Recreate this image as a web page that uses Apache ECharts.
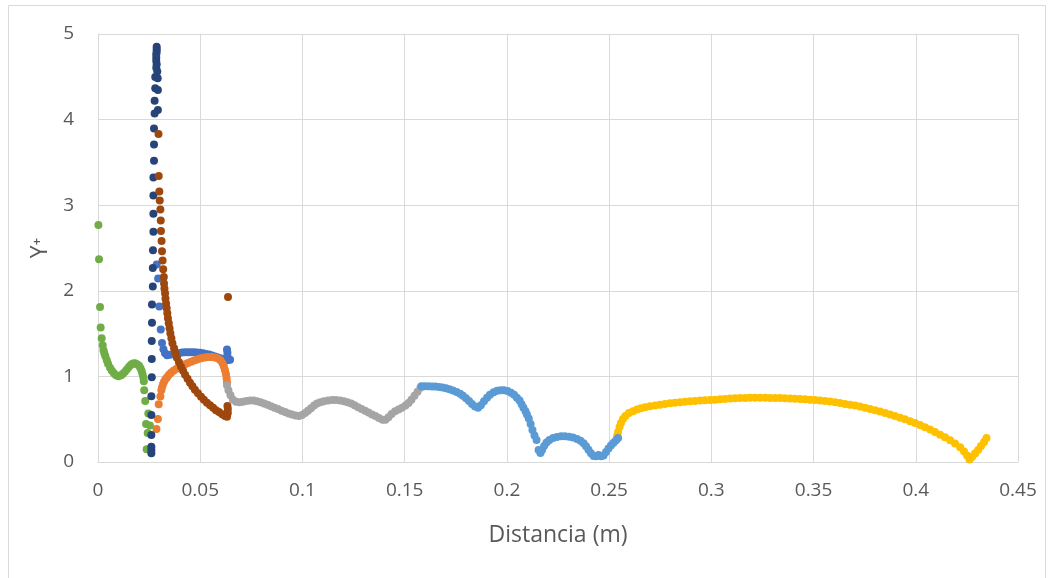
<!DOCTYPE html>
<html>
<head>
<meta charset="utf-8">
<script src="https://cdn.jsdelivr.net/npm/echarts@6/dist/echarts.min.js"></script>
<style>
  html, body { margin: 0; padding: 0; background: #ffffff; }
  #chart { width: 1048px; height: 578px; }
</style>
</head>
<body>
<div id="chart"></div>
<script>
// Y+ along the wall, one scatter series per wall segment: [distance (m), Y+]
const seriesBlue = [
  [0.0287,2.308],[0.0294,2.145],[0.0300,1.818],[0.0307,1.547],[0.0313,1.390],[0.0320,1.317],
  [0.0328,1.270],[0.0338,1.247],[0.0352,1.253],[0.0367,1.259],[0.0382,1.267],[0.0396,1.273],
  [0.0411,1.279],[0.0426,1.282],[0.0440,1.282],[0.0455,1.282],[0.0470,1.282],[0.0484,1.280],
  [0.0499,1.275],[0.0514,1.270],[0.0528,1.263],[0.0543,1.255],[0.0558,1.245],[0.0572,1.233],
  [0.0587,1.221],[0.0602,1.209],[0.0616,1.197],[0.0629,1.189],[0.0638,1.195],[0.0646,1.195],
  [0.0633,1.235],[0.0633,1.276],[0.0631,1.313]
];
const seriesOrange = [
  [0.0286,0.385],[0.0293,0.501],[0.0297,0.676],[0.0305,0.766],[0.0310,0.839],[0.0313,0.874],
  [0.0318,0.909],[0.0323,0.938],[0.0330,0.967],[0.0338,0.991],[0.0347,1.020],[0.0357,1.043],
  [0.0369,1.066],[0.0382,1.086],[0.0396,1.107],[0.0411,1.127],[0.0426,1.142],[0.0440,1.157],
  [0.0455,1.171],[0.0470,1.185],[0.0484,1.197],[0.0499,1.209],[0.0514,1.218],[0.0528,1.224],
  [0.0543,1.227],[0.0558,1.227],[0.0572,1.221],[0.0587,1.209],[0.0599,1.189],[0.0609,1.154],
  [0.0616,1.113],[0.0621,1.072],[0.0626,1.026],[0.0629,0.979],[0.0631,0.932]
];
const seriesGray = [
  [0.0631,0.897],[0.0638,0.839],[0.0648,0.781],[0.0660,0.728],[0.0675,0.705],[0.0692,0.699],
  [0.0709,0.705],[0.0726,0.714],[0.0744,0.719],[0.0761,0.719],[0.0778,0.711],[0.0795,0.699],
  [0.0812,0.684],[0.0829,0.668],[0.0846,0.650],[0.0863,0.634],[0.0880,0.618],[0.0898,0.600],
  [0.0915,0.583],[0.0932,0.568],[0.0949,0.554],[0.0966,0.542],[0.0983,0.536],[0.0998,0.548],
  [0.1013,0.571],[0.1027,0.600],[0.1042,0.629],[0.1057,0.659],[0.1071,0.682],[0.1088,0.699],
  [0.1105,0.711],[0.1125,0.719],[0.1145,0.723],[0.1164,0.723],[0.1184,0.719],[0.1203,0.711],
  [0.1220,0.699],[0.1238,0.682],[0.1255,0.662],[0.1272,0.641],[0.1289,0.620],[0.1306,0.598],
  [0.1323,0.577],[0.1340,0.556],[0.1357,0.536],[0.1374,0.515],[0.1392,0.495],[0.1406,0.495],
  [0.1421,0.524],[0.1436,0.562],[0.1453,0.594],[0.1470,0.614],[0.1487,0.635],[0.1504,0.659],
  [0.1519,0.688],[0.1533,0.728],[0.1548,0.775],[0.1563,0.822],[0.1577,0.868]
];
const seriesGold = [
  [0.2539,0.303],[0.2544,0.350],[0.2551,0.408],[0.2558,0.455],[0.2568,0.501],[0.2580,0.536],
  [0.2597,0.571],[0.2617,0.594],[0.2637,0.612],[0.2656,0.627],[0.2676,0.639],[0.2700,0.650],
  [0.2725,0.661],[0.2749,0.670],[0.2773,0.678],[0.2798,0.685],[0.2822,0.692],[0.2847,0.699],
  [0.2871,0.705],[0.2896,0.710],[0.2920,0.713],[0.2945,0.717],[0.2969,0.720],[0.2994,0.723],
  [0.3018,0.727],[0.3043,0.732],[0.3067,0.737],[0.3092,0.741],[0.3116,0.745],[0.3140,0.747],
  [0.3165,0.749],[0.3189,0.751],[0.3214,0.752],[0.3238,0.752],[0.3263,0.751],[0.3287,0.749],
  [0.3312,0.748],[0.3336,0.747],[0.3360,0.745],[0.3385,0.742],[0.3409,0.740],[0.3434,0.737],
  [0.3458,0.733],[0.3483,0.728],[0.3507,0.724],[0.3532,0.719],[0.3556,0.713],[0.3580,0.708],
  [0.3605,0.698],[0.3629,0.688],[0.3654,0.679],[0.3678,0.670],[0.3703,0.659],[0.3727,0.647],
  [0.3752,0.634],[0.3776,0.620],[0.3801,0.606],[0.3825,0.591],[0.3850,0.573],[0.3874,0.556],
  [0.3898,0.536],[0.3923,0.517],[0.3947,0.498],[0.3972,0.477],[0.3996,0.455],[0.4021,0.431],
  [0.4045,0.406],[0.4070,0.379],[0.4094,0.350],[0.4119,0.319],[0.4143,0.288],[0.4168,0.254],
  [0.4192,0.217],[0.4217,0.172],[0.4236,0.122],[0.4251,0.076],[0.4263,0.029],[0.4275,0.058],
  [0.4290,0.099],[0.4305,0.140],[0.4319,0.186],[0.4334,0.233],[0.4346,0.280]
];
const seriesLightBlue = [
  [0.1582,0.886],[0.1599,0.886],[0.1617,0.886],[0.1634,0.883],[0.1651,0.881],[0.1668,0.876],
  [0.1685,0.871],[0.1702,0.862],[0.1719,0.851],[0.1736,0.836],[0.1754,0.818],[0.1771,0.798],
  [0.1785,0.775],[0.1800,0.746],[0.1815,0.713],[0.1829,0.678],[0.1844,0.647],[0.1859,0.635],
  [0.1873,0.664],[0.1888,0.711],[0.1903,0.752],[0.1917,0.787],[0.1935,0.816],[0.1952,0.833],
  [0.1969,0.839],[0.1986,0.837],[0.2003,0.828],[0.2020,0.810],[0.2035,0.787],[0.2049,0.752],
  [0.2062,0.717],[0.2072,0.676],[0.2081,0.635],[0.2091,0.594],[0.2098,0.554],[0.2107,0.507],
  [0.2116,0.443],[0.2125,0.373],[0.2135,0.309],[0.2145,0.256],[0.2155,0.140],[0.2164,0.105],
  [0.2172,0.140],[0.2182,0.186],[0.2194,0.227],[0.2208,0.256],[0.2226,0.280],[0.2245,0.291],
  [0.2265,0.300],[0.2284,0.301],[0.2304,0.296],[0.2323,0.286],[0.2343,0.270],[0.2360,0.248],
  [0.2375,0.218],[0.2387,0.183],[0.2399,0.143],[0.2411,0.101],[0.2424,0.070],[0.2436,0.066],
  [0.2448,0.082],[0.2460,0.066],[0.2473,0.076],[0.2485,0.117],[0.2497,0.157],[0.2509,0.192],
  [0.2522,0.224],[0.2534,0.253],[0.2544,0.280]
];
const seriesGreen = [
  [0.0002,2.770],[0.0005,2.370],[0.0010,1.810],[0.0013,1.570],[0.0018,1.445],[0.0023,1.364],
  [0.0027,1.305],[0.0031,1.270],[0.0036,1.235],[0.0043,1.190],[0.0049,1.148],[0.0059,1.101],
  [0.0068,1.066],[0.0078,1.037],[0.0088,1.014],[0.0100,1.002],[0.0113,1.014],[0.0122,1.031],
  [0.0132,1.055],[0.0142,1.084],[0.0152,1.113],[0.0161,1.136],[0.0171,1.150],[0.0181,1.154],
  [0.0191,1.142],[0.0201,1.125],[0.0208,1.096],[0.0214,1.060],[0.0218,1.026],[0.0222,0.985],
  [0.0224,0.944],[0.0226,0.839],[0.0231,0.714],[0.0246,0.568],[0.0235,0.443],[0.0254,0.425],
  [0.0243,0.338],[0.0238,0.148]
];
const seriesDarkBlue = [
  [0.0287,4.852],[0.0287,4.822],[0.0287,4.794],[0.0285,4.763],[0.0285,4.724],[0.0285,4.685],
  [0.0287,4.647],[0.0285,4.607],[0.0290,4.561],[0.0280,4.499],[0.0292,4.484],[0.0280,4.367],
  [0.0293,4.347],[0.0277,4.219],[0.0293,4.111],[0.0277,4.071],[0.0274,3.896],[0.0274,3.710],
  [0.0274,3.520],[0.0271,3.325],[0.0271,3.112],[0.0271,2.899],[0.0271,2.689],[0.0269,2.474],
  [0.0268,2.265],[0.0268,2.051],[0.0264,1.841],[0.0264,1.628],[0.0263,1.414],[0.0263,1.204],
  [0.0263,0.991],[0.0261,0.769],[0.0261,0.548],[0.0261,0.315],[0.0261,0.178],[0.0261,0.140],
  [0.0261,0.101]
];
const seriesBrown = [
  [0.0296,3.831],[0.0297,3.341],[0.0300,3.159],[0.0302,3.054],[0.0305,2.949],[0.0307,2.821],
  [0.0308,2.700],[0.0311,2.582],[0.0313,2.463],[0.0316,2.354],[0.0319,2.253],[0.0322,2.160],
  [0.0323,2.086],[0.0325,2.028],[0.0328,1.970],[0.0330,1.911],[0.0333,1.853],[0.0336,1.795],
  [0.0339,1.737],[0.0342,1.678],[0.0346,1.620],[0.0350,1.562],[0.0354,1.503],[0.0359,1.445],
  [0.0364,1.387],[0.0372,1.329],[0.0379,1.270],[0.0386,1.218],[0.0396,1.166],[0.0406,1.113],
  [0.0416,1.066],[0.0426,1.020],[0.0438,0.973],[0.0450,0.927],[0.0462,0.886],[0.0474,0.845],
  [0.0489,0.804],[0.0504,0.763],[0.0518,0.728],[0.0533,0.693],[0.0548,0.664],[0.0563,0.635],
  [0.0577,0.606],[0.0592,0.583],[0.0607,0.559],[0.0621,0.536],[0.0631,0.530],[0.0635,0.571],
  [0.0635,0.618],[0.0633,0.653],[0.0636,1.927]
];

// axis ranges and tick steps
const xTicks = { min: 0, max: 0.45, step: 0.05 };
const yTicks = { min: 0, max: 5, step: 1 };

// drawing order: later series sit on top
const layers = [
  { data: seriesBlue,      color: '#4472C4' },
  { data: seriesOrange,    color: '#ED7D31' },
  { data: seriesGray,      color: '#A5A5A5' },
  { data: seriesGold,      color: '#FFC000' },
  { data: seriesLightBlue, color: '#5B9BD5' },
  { data: seriesGreen,     color: '#70AD47' },
  { data: seriesDarkBlue,  color: '#264478' },
  { data: seriesBrown,     color: '#9E480E' }
];

const textColor = '#595959';
const gridColor = '#D9D9D9';
const font = '"Open Sans", "Liberation Sans", sans-serif';

const chart = echarts.init(document.getElementById('chart'), null, { renderer: 'canvas' });
chart.setOption({
  backgroundColor: '#ffffff',
  animation: false,
  graphic: [{
    type: 'rect',
    shape: { x: 8.5, y: 5.5, width: 1037, height: 600 },
    style: { fill: 'none', stroke: gridColor, lineWidth: 1 },
    silent: true
  }],
  grid: { left: 98, right: 30, top: 34, bottom: 116, containLabel: false },
  xAxis: {
    type: 'value',
    min: xTicks.min, max: xTicks.max, interval: xTicks.step,
    name: 'Distancia (m)',
    nameLocation: 'middle',
    nameGap: 62,
    nameTextStyle: { color: textColor, fontSize: 23, fontFamily: font },
    axisLine: { show: true, lineStyle: { color: gridColor, width: 1 } },
    axisTick: { show: false },
    axisLabel: {
      color: textColor, fontSize: 19, fontFamily: font, margin: 19,
      formatter: v => String(Math.round(v * 100) / 100)
    },
    splitLine: { show: true, lineStyle: { color: gridColor, width: 1 } }
  },
  yAxis: {
    type: 'value',
    min: yTicks.min, max: yTicks.max, interval: yTicks.step,
    name: 'Y\u207A',
    nameLocation: 'middle',
    nameGap: 46,
    nameRotate: 90,
    nameTextStyle: { color: textColor, fontSize: 23, fontFamily: font },
    axisLine: { show: true, lineStyle: { color: gridColor, width: 1 } },
    axisTick: { show: false },
    axisLabel: { color: textColor, fontSize: 19, fontFamily: font, margin: 24 },
    splitLine: { show: true, lineStyle: { color: gridColor, width: 1 } }
  },
  series: layers.map(l => ({
    type: 'scatter',
    data: l.data,
    symbol: 'circle',
    symbolSize: 8,
    itemStyle: { color: l.color, opacity: 1 },
    emphasis: { disabled: true }
  }))
});
</script>
</body>
</html>
